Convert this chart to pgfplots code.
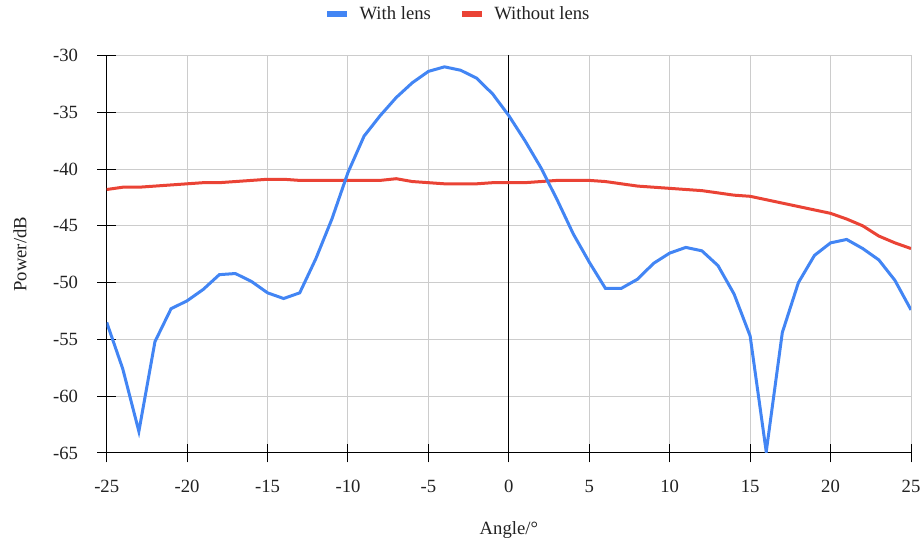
\documentclass[border=0pt]{standalone}
\usepackage{fontspec}
\setmainfont{Liberation Serif}
\usepackage{pgfplots}
\pgfplotsset{compat=1.18}
\definecolor{gblue}{HTML}{4285F4}
\definecolor{gred}{HTML}{EA4335}
\definecolor{gridgray}{HTML}{CCCCCC}
\definecolor{txt}{HTML}{222222}
\begin{document}
\begin{tikzpicture}
\path[use as bounding box] (-80pt,-66.75pt) rectangle (612.75pt,339.6pt);
\begin{axis}[
  scale only axis,
  width=603pt, height=298pt,
  at={(0,0)}, anchor=south west,
  xmin=-25, xmax=25, ymin=-65, ymax=-30,
  xtick={-25,-20,...,25},
  ytick={-65,-60,...,-30},
  grid=major,
  major grid style={gridgray, line width=0.75pt},
  axis lines*=left,
  axis line style={-, black, line width=0.75pt},
  tick pos=left,
  tick align=center,
  major tick length=14pt,
  every tick/.style={draw=black, line width=0.75pt},
  major tick style={draw=black, line width=0.75pt},
  /pgf/number format/assume math mode=true,
  ticklabel style={font=\fontsize{14pt}{16pt}\selectfont, text=txt},
  xticklabel style={yshift=-10pt},
  yticklabel style={xshift=-11pt},
  xlabel={Angle/°},
  ylabel={Power/dB},
  label style={font=\fontsize{14pt}{16pt}\selectfont, text=txt},
  xlabel style={at={(axis description cs:0.5,-0.195)}, anchor=center},
  ylabel style={at={(axis description cs:-0.1078,0.5)}, anchor=center},
  legend style={draw=none, fill=none, at={(axis description cs:0.437,1.1044)}, anchor=center,
    legend columns=2, font=\fontsize{14pt}{16pt}\selectfont, text=txt,
    /tikz/every odd column/.append style={column sep=5pt},
    /tikz/every even column/.append style={column sep=19pt}},
  legend image code/.code={\draw[#1, line width=4.5pt] (0pt,0pt) -- (15pt,0pt);},
]
\draw[black, line width=0.75pt] (axis cs:0,-65) -- (axis cs:0,-30);
\addplot[gred, line width=2.25pt, forget plot] coordinates {
(-25,-41.8) (-24,-41.6) (-23,-41.6) (-22,-41.5) (-21,-41.4) (-20,-41.3) (-19,-41.2) (-18,-41.2) (-17,-41.1) (-16,-41.0)
(-15,-40.9) (-14,-40.9) (-13,-41.0) (-12,-41.0) (-11,-41.0) (-10,-41.0) (-9,-41.0) (-8,-41.0) (-7,-40.85) (-6,-41.1)
(-5,-41.2) (-4,-41.3) (-3,-41.3) (-2,-41.3) (-1,-41.2) (0,-41.2) (1,-41.2) (2,-41.1) (3,-41.0) (4,-41.0)
(5,-41.0) (6,-41.1) (7,-41.3) (8,-41.5) (9,-41.6) (10,-41.7) (11,-41.8) (12,-41.9) (13,-42.1) (14,-42.3)
(15,-42.4) (16,-42.7) (17,-43.0) (18,-43.3) (19,-43.6) (20,-43.9) (21,-44.4) (22,-45.0) (23,-45.9) (24,-46.5) (25,-47.0)
};
\addplot[gblue, line width=2.25pt] coordinates {
(-25,-53.5) (-24,-57.6) (-23,-63.1) (-22,-55.2) (-21,-52.3) (-20,-51.6) (-19,-50.6) (-18,-49.3) (-17,-49.2) (-16,-49.9)
(-15,-50.9) (-14,-51.4) (-13,-50.9) (-12,-47.9) (-11,-44.4) (-10,-40.3) (-9,-37.1) (-8,-35.3) (-7,-33.7) (-6,-32.4)
(-5,-31.4) (-4,-31.0) (-3,-31.3) (-2,-32.0) (-1,-33.4) (0,-35.3) (1,-37.5) (2,-39.9) (3,-42.7) (4,-45.7)
(5,-48.2) (6,-50.5) (7,-50.5) (8,-49.7) (9,-48.3) (10,-47.4) (11,-46.9) (12,-47.2) (13,-48.5) (14,-51.0)
(15,-54.7) (16,-64.9) (17,-54.4) (18,-50.0) (19,-47.6) (20,-46.5) (21,-46.2) (22,-47.0) (23,-48.0) (24,-49.8) (25,-52.4)
};
\addlegendentry{With lens}
\addlegendimage{gred, line width=2.25pt}
\addlegendentry{Without lens}
\end{axis}
\end{tikzpicture}
\end{document}
